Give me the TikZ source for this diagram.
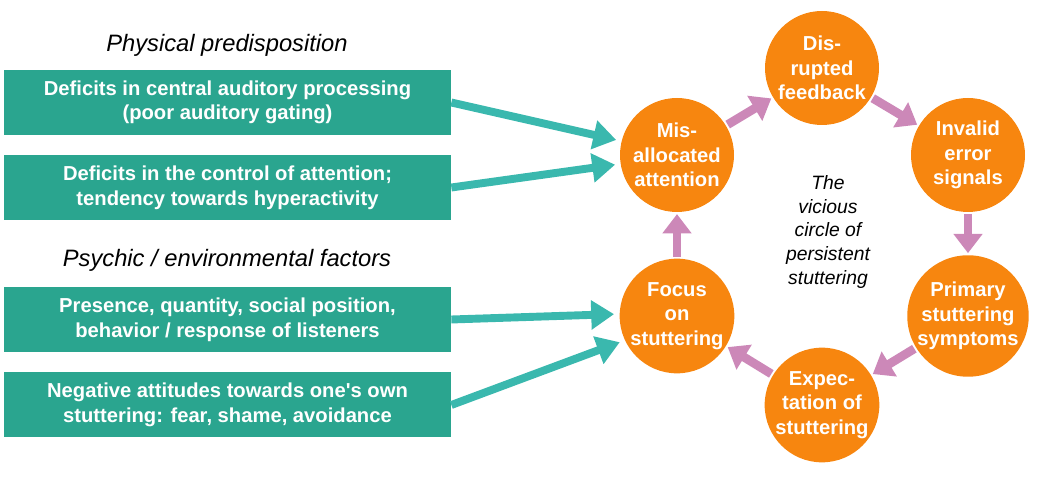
\documentclass[tikz,border=0pt]{standalone}
\usepackage{fontspec}
\setmainfont{Liberation Sans}
\usetikzlibrary{arrows.meta,positioning}
\definecolor{boxteal}{HTML}{2AA58F}
\definecolor{arrteal}{HTML}{3AB8AE}
\definecolor{circorange}{HTML}{F7860F}
\definecolor{arrpink}{HTML}{CC88B8}
\tikzset{
  factor/.style={fill=boxteal, text=white, font=\fontsize{11.5}{14}\selectfont\bfseries,
    minimum width=8.94cm, minimum height=1.3cm, align=center, inner sep=0pt},
  heading/.style={font=\fontsize{13.5}{16}\selectfont\itshape},
  stage/.style={circle, fill=circorange, text=white, minimum size=2.28cm, inner sep=0pt,
    font=\fontsize{11.5}{14}\selectfont\bfseries, align=center},
  feed/.style={arrteal, line width=4.5pt, shorten >=3pt,
    -{Triangle[length=13pt,width=16pt]}},
  cycle/.style={arrpink, line width=5pt, shorten <=1pt, shorten >=1pt,
    -{Triangle[length=11pt,width=16pt]}}
}
\begin{document}
\begin{tikzpicture}
	\useasboundingbox (0,0) rectangle (20.74,9.64);
	\node (T1) [heading] at (4.54,8.74) {Physical predisposition};
	\node (T2) [heading] at (4.54,4.44) {Psychic / environmental factors};
	\node (F1) [factor] at (4.55,7.59) {Deficits in central auditory processing\\(poor auditory gating)};
	\node (F2) [factor] at (4.55,5.89) {Deficits in the control of attention;\\tendency towards hyperactivity};
	\node (F3) [factor] at (4.55,3.25) {Presence, quantity, social position,\\behavior / response of listeners};
	\node (F4) [factor] at (4.55,1.54) {Negative attitudes towards one\textquotesingle s own\\stuttering: fear, shame, avoidance};

	\node (mis) [stage] at (13.54,6.54) {Mis-\\allocated\\attention};
	\node (dis) [stage] at (16.44,8.28) {Dis-\\rupted\\feedback};
	\node (inv) [stage] at (19.36,6.54) {Invalid\\error\\signals};
	\node (pri) [stage] at (19.36,3.32) {Primary\\stuttering\\symptoms};
	\node (exp) [stage] at (16.44,1.54) {Expec-\\tation of\\stuttering};
	\node (foc) [stage] at (13.54,3.32) {Focus\\on\\stuttering};
	\node (mid) [font=\fontsize{11}{13.5}\selectfont\itshape, align=center] at (16.56,5.0)
		{The\\vicious\\circle of\\persistent\\stuttering};

	\draw [feed] (F1.east) -- (mis.166);
	\draw [feed] (F2.east) -- (mis.189);
	\draw [feed] (F3.east) -- (foc.178);
	\draw [feed] (F4.east) -- (foc.205);

	\draw [cycle] (mis) -- (dis);
	\draw [cycle] (dis) -- (inv);
	\draw [cycle] (inv) -- (pri);
	\draw [cycle] (pri) -- (exp);
	\draw [cycle] (exp) -- (foc);
	\draw [cycle] (foc) -- (mis);
\end{tikzpicture}
\end{document}
